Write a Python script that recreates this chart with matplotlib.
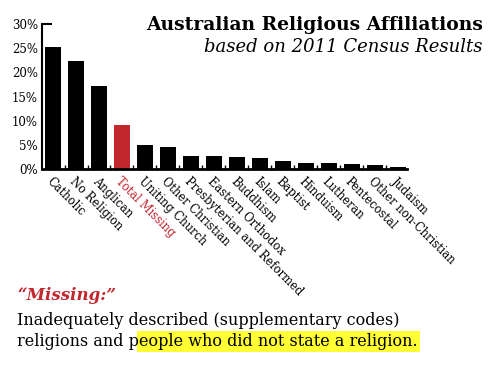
import matplotlib
matplotlib.use('Agg')
import matplotlib.pyplot as plt
import numpy as np

# 2011 census religious affiliation shares (%)
religions = ['Catholic', 'No Religion', 'Anglican', 'Total Missing', 'Uniting Church',
             'Other Christian', 'Presbyterian and Reformed', 'Eastern Orthodox',
             'Buddhism', 'Islam', 'Baptist', 'Hinduism', 'Lutheran', 'Pentecostal',
             'Other non-Christian', 'Judaism']
shares = [25.3, 22.3, 17.1, 9.2, 5.0, 4.6, 2.8, 2.7, 2.5, 2.2, 1.6, 1.3, 1.2, 1.1, 0.8, 0.5]
ytick_vals = [0, 5, 10, 15, 20, 25, 30]

red = '#c1272d'
plt.rcParams['font.family'] = ['DejaVu Serif']

fig = plt.figure(figsize=(5, 3.75), dpi=100)
ax = fig.add_axes([0.084, 0.549, 0.73, 0.387])

x = np.arange(len(religions))
colors = [red if r == 'Total Missing' else 'black' for r in religions]
ax.bar(x, shares, width=0.68, color=colors)

ax.set_xlim(-0.48, len(religions) - 0.6)
ax.set_ylim(0, 30)
ax.set_yticks(ytick_vals)
ax.set_yticklabels([f'{v}%' for v in ytick_vals], fontsize=8.5)
ax.tick_params(axis='y', direction='in', length=0, pad=3)
# only the top tick is drawn, as a short bar to the right of the spine
ax.yaxis.get_major_ticks()[-1].tick1line.set_markersize(7)
ax.yaxis.get_major_ticks()[-1].tick1line.set_markeredgewidth(1.5)

ax.set_xticks(x)
ax.set_xticklabels(religions, rotation=-45, ha='left', va='top',
                   rotation_mode='anchor', fontsize=8.3)
ax.tick_params(axis='x', length=0, pad=4)
ax.set_xticks(x[:-1] + 0.5, minor=True)
ax.tick_params(axis='x', which='minor', direction='in', length=3, width=1)
for lbl in ax.get_xticklabels():
    if lbl.get_text() == 'Total Missing':
        lbl.set_color(red)

for side in ['top', 'right']:
    ax.spines[side].set_visible(False)
ax.spines['left'].set_linewidth(1.5)
ax.spines['bottom'].set_linewidth(2)

fig.text(0.966, 0.92, 'Australian Religious Affiliations', ha='right',
         fontsize=13.5, fontweight='bold')
fig.text(0.964, 0.862, 'based on 2011 Census Results', ha='right',
         fontsize=13, fontstyle='italic')

fig.text(0.034, 0.2, '\u201cMissing:\u201d', color=red, fontsize=12,
         fontweight='bold', fontstyle='italic')
fig.text(0.034, 0.133, 'Inadequately described (supplementary codes)', fontsize=11.5)
t1 = fig.text(0.034, 0.077, 'religions and p', fontsize=11.5, zorder=3)
fig.canvas.draw()
bb = t1.get_window_extent()
x2 = bb.x1 / fig.bbox.width
fig.text(x2, 0.077, 'eople who did not state a religion.', fontsize=11.5, zorder=2,
         bbox=dict(facecolor='#ffff33', edgecolor='none', pad=1.5))

fig.savefig('out.png', dpi=100)
